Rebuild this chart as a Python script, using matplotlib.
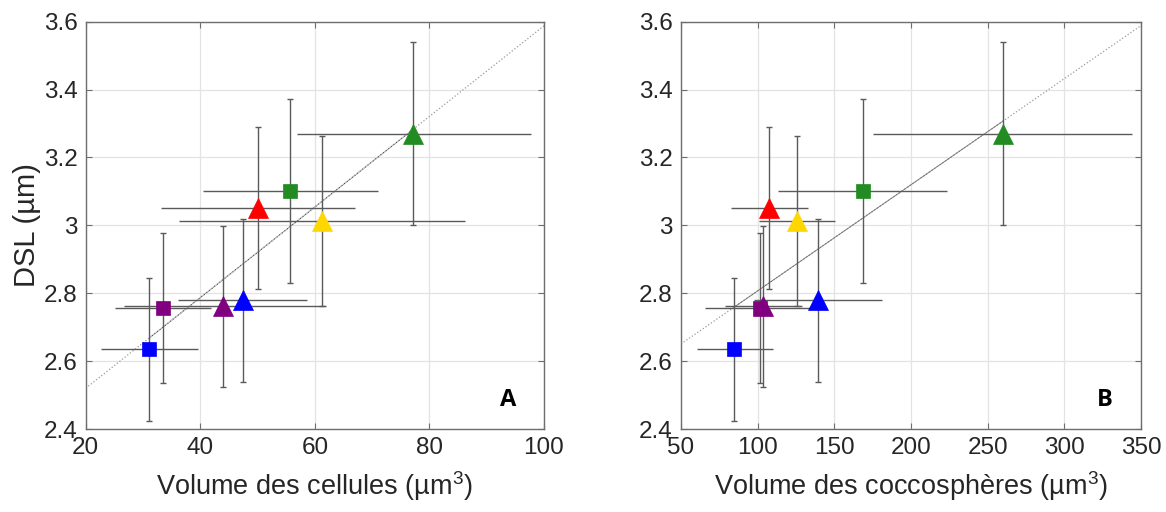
import numpy as np
import matplotlib
matplotlib.use("Agg")
import matplotlib.pyplot as plt

plt.rcParams['font.family'] = ['Liberation Sans', 'DejaVu Sans']
plt.rcParams['mathtext.fontset'] = 'custom'
plt.rcParams['mathtext.rm'] = 'Liberation Sans'
plt.rcParams['mathtext.it'] = 'Liberation Sans'

# points: blue sq, purple sq, purple tri, blue tri, red tri, green sq, yellow tri, green tri
colors = ['#0000ff', '#800080', '#800080', '#0000ff', '#ff0000', '#228b22', '#ffd700', '#228b22']
markers = ['s', 's', '^', '^', '^', 's', '^', '^']

# DSL (µm), common to both panels
dsl = [2.635, 2.757, 2.762, 2.779, 3.050, 3.100, 3.012, 3.269]
dsl_lo = [2.424, 2.537, 2.524, 2.538, 2.813, 2.831, 2.762, 3.000]
dsl_hi = [2.845, 2.978, 2.997, 3.020, 3.289, 3.372, 3.262, 3.541]

# panel A: volume des cellules
vol_cell = [31.1, 33.5, 43.9, 47.4, 50.1, 55.6, 61.2, 77.2]
vol_cell_lo = [22.6, 25.2, 26.7, 36.2, 33.1, 40.5, 36.3, 56.9]
vol_cell_hi = [39.6, 41.9, 61.9, 58.7, 67.0, 71.1, 86.2, 97.8]

# panel B: volume des coccosphères
vol_cocco = [84.8, 101.5, 103.7, 139.1, 107.6, 168.7, 125.5, 259.8]
vol_cocco_lo = [60.4, 65.7, 78.5, 97.5, 82.6, 113.5, 101.1, 175.0]
vol_cocco_hi = [110.2, 136.7, 129.1, 181.0, 132.6, 223.3, 150.4, 344.1]

fig = plt.figure(figsize=(11.66, 5.12), dpi=100)
axA = fig.add_axes([0.0735, 0.162, 0.393, 0.7957])
axB = fig.add_axes([0.584, 0.162, 0.3945, 0.7957])

ebc = '#5a5a5a'


def panel(ax, x, xlo, xhi, xlim, xticks, xlabel, letter, solid_mid):
    x = np.array(x)
    y = np.array(dsl)
    # droite de régression
    p = np.polyfit(x, y, 1)
    xx = np.array(xlim, dtype=float)
    ax.plot(xx, np.polyval(p, xx), ':', color='#9a9a9a', lw=0.9, zorder=1)
    xm = np.array([x.min(), x.max()])
    if solid_mid:
        ax.plot(xm, np.polyval(p, xm), '-', color='#707070', lw=0.6, zorder=1)
    else:
        ax.plot(xm, np.polyval(p, xm), ':', color='#505050', lw=0.9, zorder=1)
    for i in range(len(x)):
        ax.errorbar(x[i], y[i], yerr=[[y[i] - dsl_lo[i]], [dsl_hi[i] - y[i]]],
                    fmt='none', ecolor=ebc, elinewidth=1.0, capsize=2, capthick=1.0, zorder=2)
        ax.errorbar(x[i], y[i], xerr=[[x[i] - xlo[i]], [xhi[i] - x[i]]],
                    fmt='none', ecolor=ebc, elinewidth=1.0, capsize=0, zorder=2)
        ms = 10 if markers[i] == 's' else 14
        ax.plot(x[i], y[i], markers[i], color=colors[i], ms=ms, mec=colors[i], mew=0.5, zorder=3)
    ax.set_xlim(xlim)
    ax.set_ylim(2.4, 3.6)
    ax.set_xticks(xticks)
    ax.set_yticks([2.4, 2.6, 2.8, 3.0, 3.2, 3.4, 3.6])
    ax.set_yticklabels(['2.4', '2.6', '2.8', '3', '3.2', '3.4', '3.6'])
    ax.grid(True, color='#e3e3e3', lw=0.9)
    ax.set_axisbelow(True)
    ax.tick_params(direction='in', length=4, width=0.8, colors='#6e6e6e',
                   labelcolor='#262626', labelsize=17.5, top=True, right=True, pad=6)
    for s in ax.spines.values():
        s.set_color('#6e6e6e')
        s.set_linewidth(1.0)
    ax.set_xlabel(xlabel, fontsize=19.5, color='#262626', labelpad=7)
    ax.text(0.922, 0.071, letter, transform=ax.transAxes, ha='center', va='center',
            fontsize=17, fontweight='bold', family=['Open Sans', 'DejaVu Sans'])


panel(axA, vol_cell, vol_cell_lo, vol_cell_hi, (20, 100), [20, 40, 60, 80, 100],
      r'Volume des cellules (µm$^{3}$)', 'A', False)
panel(axB, vol_cocco, vol_cocco_lo, vol_cocco_hi, (50, 350),
      [50, 100, 150, 200, 250, 300, 350], r'Volume des coccosphères (µm$^{3}$)', 'B', True)
axA.set_ylabel('DSL (µm)', fontsize=21, color='#262626', labelpad=2)

fig.savefig('out.png', dpi=100)
